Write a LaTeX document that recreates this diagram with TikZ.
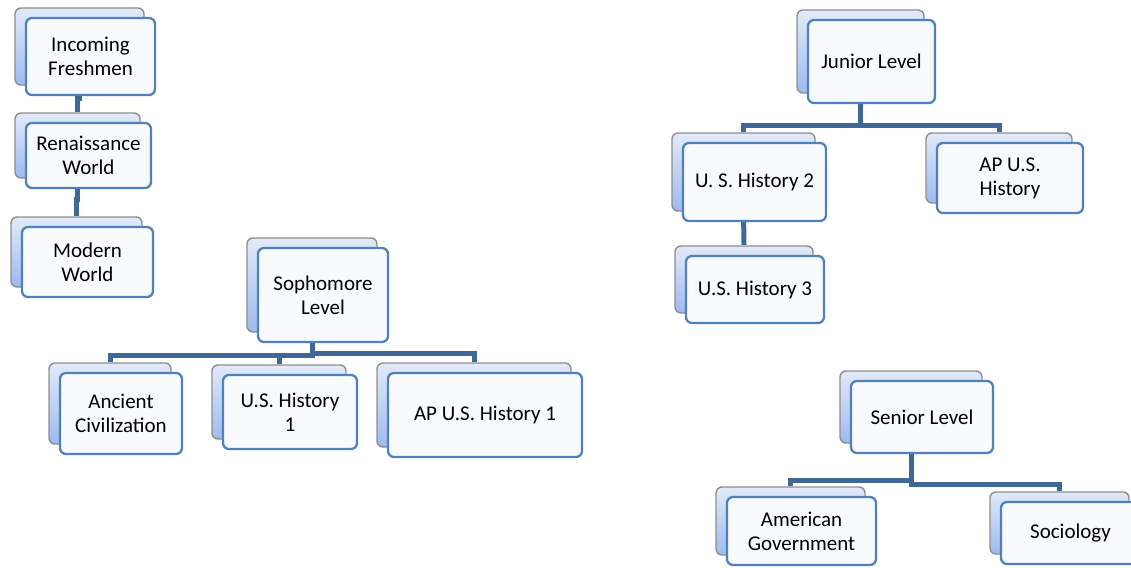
\documentclass[tikz,border=0pt]{standalone}
\usepackage{fontspec}
\setmainfont{Carlito}
\usetikzlibrary{shadows, backgrounds}
\definecolor{kblue}{HTML}{4F81BD}
\definecolor{kline}{HTML}{3F6899}
\definecolor{kgray}{HTML}{8E8E8E}
\definecolor{ktop}{HTML}{E2EAF9}
\definecolor{kbot}{HTML}{9DBAF0}
\definecolor{kfront}{HTML}{F8FAFE}
\tikzset{
  course/.style={draw=kblue, line width=2.3pt, fill=kfront, rounded corners=6pt,
    inner sep=0pt, align=center, font=\fontsize{21}{24}\selectfont,
    general shadow={shadow xshift=-11pt, shadow yshift=10pt, draw=kgray,
      line width=1.4pt, top color=ktop, bottom color=kbot}},
  sz/.style 2 args={minimum width=#1pt, minimum height=#2pt},
  conn/.style={draw=kline, line width=5pt},
  bk/.style={xshift=-11pt, yshift=10pt}
}

\begin{document}
\begin{tikzpicture}[x=1pt, y=-1pt]
\useasboundingbox (0,0) rectangle (1131,567);
% freshman column
\node[course, sz={129}{77}] (fresh) at (90.5,56.5) {Incoming\\Freshmen};
\node[course, sz={125}{65}] (ren) at (88.5,155.5) {Renaissance\\World};
\node[course, sz={131}{70}] (mod) at (87.5,262) {Modern\\World};
% sophomore
\node[course, sz={130}{94}] (soph) at (323,295) {Sophomore\\Level};
\node[course, sz={122}{81}] (anc) at (121,413.5) {Ancient\\Civilization};
\node[course, sz={134}{74}] (ush1) at (290,412) {U.S. History\\1};
\node[course, sz={194}{84}] (apush1) at (485,415) {AP U.S. History 1};
% junior
\node[course, sz={127}{83}] (jun) at (871.5,61.5) {Junior Level};
\node[course, sz={143}{78}] (ush2) at (754.5,182) {U. S. History 2};
\node[course, sz={146}{70}] (apush) at (1010,178) {AP U.S.\\History};
\node[course, sz={138}{67}] (ush3) at (755,289.5) {U.S. History 3};
% senior
\node[course, sz={142}{72}] (sen) at (922,417) {Senior Level};
\node[course, sz={149}{68}] (amgov) at (801.5,531) {American\\Government};
\node[course, sz={139}{62}] (soc) at (1070.5,533) {Sociology};

\begin{scope}[on background layer]
\draw[conn] ([bk]fresh.south) -- ++(0,12) -| ([bk]ren.north);
\draw[conn] ([bk]ren.south) -- ++(0,20) -| ([bk]mod.north);
\draw[conn] ([bk]soph.south) -- ++(0,22) -| ([bk]anc.north);
\draw[conn] ([bk]soph.south) -- ++(0,22) -| ([bk]ush1.north);
\draw[conn] ([bk]soph.south) -- ++(0,20) -| ([bk]apush1.north);
\draw[conn] ([bk]jun.south) -- ++(0,31) -| ([bk]ush2.north);
\draw[conn] ([bk]jun.south) -- ++(0,31) -| ([bk]apush.north);
\draw[conn] ([bk]ush2.south) -- ([bk]ush3.north);
\draw[conn] ([bk]sen.south) -- ++(0,36) -| ([bk]amgov.north);
\draw[conn] ([bk]sen.south) -- ++(0,40) -| ([bk]soc.north);
\end{scope}
\end{tikzpicture}
\end{document}
